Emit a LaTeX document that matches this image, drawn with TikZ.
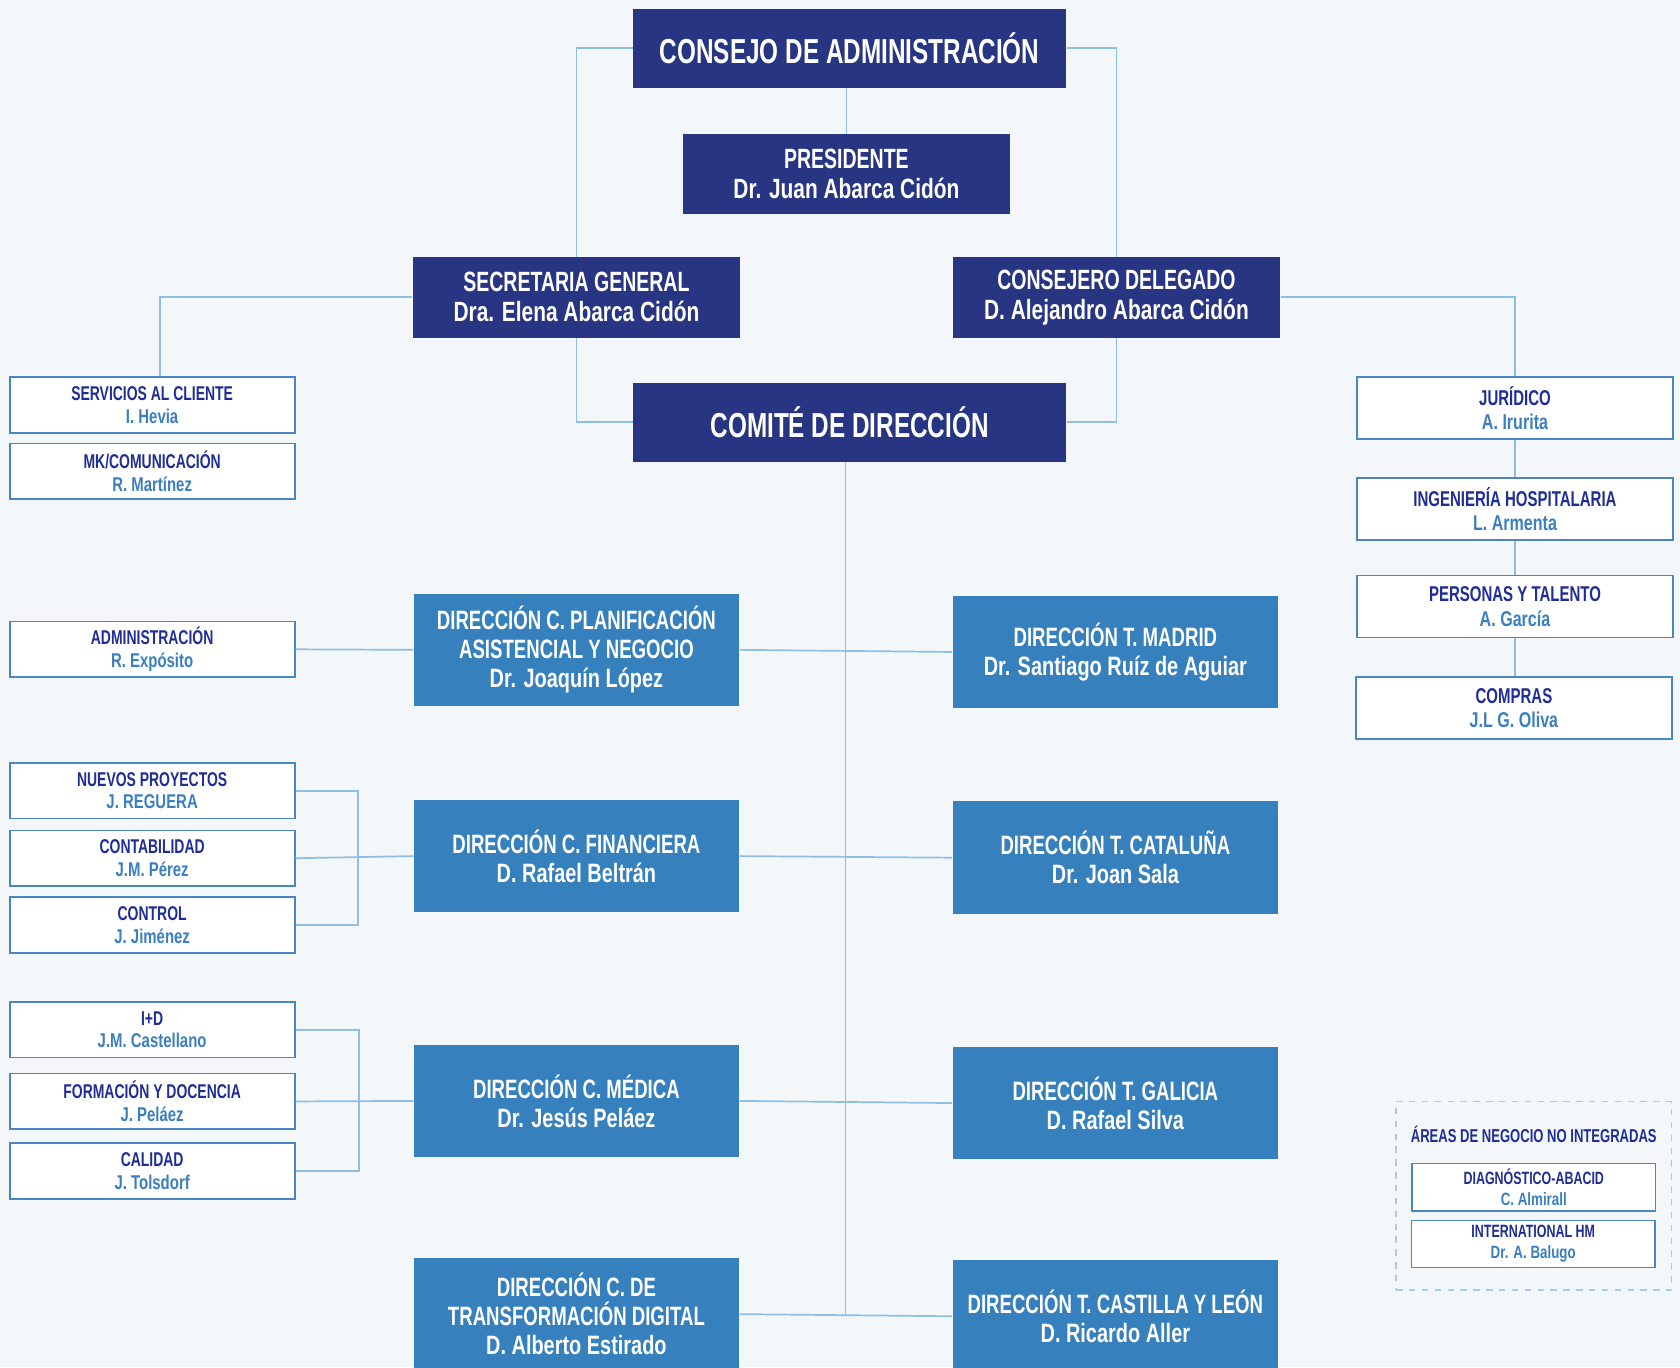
\documentclass[tikz,border=0pt]{standalone}
\usepackage{fontspec}
\setmainfont{Liberation Sans}
\newfontfamily\capf{Liberation Sans Bold}[FakeStretch=0.70]
\newfontfamily\namef{Liberation Sans Bold}[FakeStretch=0.75]
\definecolor{bgc}{HTML}{F3F7FA}
\definecolor{navyc}{HTML}{283582}
\definecolor{bluec}{HTML}{3680BD}
\definecolor{linec}{HTML}{8DBFE6}
\definecolor{wborder}{HTML}{4A86C5}
\definecolor{titc}{HTML}{1F2D96}
\definecolor{namec}{HTML}{3B7FC0}
\definecolor{dashc}{HTML}{A9CBEA}
\newcommand\wt[2]{\capf\color{titc}#1\\\namef\color{namec}#2}
\newcommand\dt[2]{\capf #1\\\namef #2}
\begin{document}
\begin{tikzpicture}[x=0.5pt,y=-0.5pt,
  navy/.style={fill=navyc, text=white, align=center, inner sep=0pt, minimum width=153pt, minimum height=37.5pt},
  big/.style={navy, minimum width=202pt, minimum height=37pt, font=\capf\fontsize{16.2}{19}\selectfont},
  dark/.style={navy, font=\fontsize{13}{14}\selectfont},
  bluebox/.style={fill=bluec, text=white, align=center, inner sep=0pt, minimum width=152pt, minimum height=52.5pt, font=\fontsize{12.4}{13.5}\selectfont},
  wbox/.style={fill=white, draw=wborder, line width=0.8pt, align=center, inner sep=0pt, minimum width=133pt, minimum height=26pt, font=\fontsize{9.3}{10.5}\selectfont},
  rbox/.style={wbox, minimum width=147.5pt, minimum height=29pt, font=\fontsize{10}{11.5}\selectfont},
  sbox/.style={wbox, minimum width=113.5pt, minimum height=22pt, font=\fontsize{8.3}{10}\selectfont},
  conn/.style={draw=linec, line width=0.8pt}]
\fill[bgc] (0,0) rectangle (1568,1276);
\useasboundingbox (0,0) rectangle (1568,1276);
\clip (0,0) rectangle (1568,1276);

% top level
\node[big] (consejo) at (793,45) {CONSEJO DE ADMINISTRACIÓN};
\node[dark] (presidente) at (790,162.5) {\dt{PRESIDENTE}{Dr. Juan Abarca Cidón}};
\node[dark] (secretaria) at (538,277.5) {\dt{SECRETARIA GENERAL}{Dra. Elena Abarca Cidón}};
\node[dark] (consejero) at (1042,277.5) {\dt{CONSEJERO DELEGADO}{D. Alejandro Abarca Cidón}};
\node[big] (comite) at (793,394) {COMITÉ DE DIRECCIÓN};

% left white boxes
\node[wbox] (servicios) at (142,378) {\wt{SERVICIOS AL CLIENTE}{I. Hevia}};
\node[wbox] (mk) at (142,440) {\wt{MK/COMUNICACIÓN}{R. Martínez}};
\node[wbox] (admin) at (142,606) {\wt{ADMINISTRACIÓN}{R. Expósito}};
\node[wbox] (nuevos) at (142,738) {\wt{NUEVOS PROYECTOS}{J. REGUERA}};
\node[wbox] (contab) at (142,801) {\wt{CONTABILIDAD}{J.M. Pérez}};
\node[wbox] (control) at (142,863.5) {\wt{CONTROL}{J. Jiménez}};
\node[wbox] (imasd) at (142,961) {\wt{I+D}{J.M. Castellano}};
\node[wbox] (formacion) at (142,1028) {\wt{FORMACIÓN Y DOCENCIA}{J. Peláez}};
\node[wbox] (calidad) at (142,1093) {\wt{CALIDAD}{J. Tolsdorf}};

% blue boxes
\node[bluebox] (planif) at (538,606.5) {\capf DIRECCIÓN C. PLANIFICACIÓN\\\capf ASISTENCIAL Y NEGOCIO\\\namef Dr. Joaquín López};
\node[bluebox] (financ) at (538,799) {\dt{DIRECCIÓN C. FINANCIERA}{D. Rafael Beltrán}};
\node[bluebox] (medica) at (538,1027.5) {\dt{DIRECCIÓN C. MÉDICA}{Dr. Jesús Peláez}};
\node[bluebox] (transf) at (538,1226.5) {\capf DIRECCIÓN C. DE\\\capf TRANSFORMACIÓN DIGITAL\\\namef D. Alberto Estirado};
\node[bluebox] (madrid) at (1041,608.5) {\dt{DIRECCIÓN T. MADRID}{Dr. Santiago Ruíz de Aguiar}};
\node[bluebox] (catal) at (1041,800.5) {\dt{DIRECCIÓN T. CATALUÑA}{Dr. Joan Sala}};
\node[bluebox] (galicia) at (1041,1029.5) {\dt{DIRECCIÓN T. GALICIA}{D. Rafael Silva}};
\node[bluebox] (castilla) at (1041,1228.5) {\dt{DIRECCIÓN T. CASTILLA Y LEÓN}{D. Ricardo Aller}};

% right white boxes
\node[rbox] (juridico) at (1414,381) {\wt{JURÍDICO}{A. Irurita}};
\node[rbox] (ingen) at (1414,475) {\wt{INGENIERÍA HOSPITALARIA}{L. Armenta}};
\node[rbox] (personas) at (1414,566) {\wt{PERSONAS Y TALENTO}{A. García}};
\node[rbox] (compras) at (1413,661) {\wt{COMPRAS}{J.L G. Oliva}};

% non integrated areas
\node[draw=dashc, dashed, line width=0.7pt, minimum width=128.5pt, minimum height=88pt, inner sep=0pt] (areas) at (1431.5,1116) {};
\node[text=titc, font=\capf\fontsize{8.7}{10}\selectfont, inner sep=0pt] (areastit) at (1431.5,1059) {ÁREAS DE NEGOCIO NO INTEGRADAS};
\node[sbox] (diag) at (1431.5,1108) {\wt{DIAGNÓSTICO-ABACID}{C. Almirall}};
\node[sbox] (intl) at (1431,1161) {\wt{INTERNATIONAL HM}{Dr. A. Balugo}};

% connectors
\coordinate (spineend) at (789,1227);
\draw[conn] (consejo.west) -| (secretaria.north);
\draw[conn] (secretaria.south) |- (comite.west);
\draw[conn] (consejo.east) -| (consejero.north);
\draw[conn] (consejero.south) |- (comite.east);
\draw[conn] (presidente.north) -- (presidente.north |- consejo.south);
\draw[conn] (secretaria.west) -| ([xshift=3.5pt]servicios.north);
\draw[conn] (consejero.east) -| (juridico.north);
\draw[conn] (juridico.south) -- (ingen.north);
\draw[conn] (ingen.south) -- (personas.north);
\draw[conn] (personas.south) -- (compras.north -| personas.south);
\draw[conn] (comite.south -| spineend) -- (spineend);
\draw[conn] (planif.east) -- (madrid.west);
\draw[conn] (financ.east) -- (catal.west);
\draw[conn] (medica.east) -- (galicia.west);
\draw[conn] (transf.east) -- (castilla.west);
\draw[conn] (admin.east) -- (planif.west);
\draw[conn] (nuevos.east) -- ++(29pt,0) |- (control.east);
\draw[conn] (contab.east) -- (financ.west);
\draw[conn] (imasd.east) -- ++(29.5pt,0) |- (calidad.east);
\draw[conn] (formacion.east) -- (medica.west);
\end{tikzpicture}
\end{document}
